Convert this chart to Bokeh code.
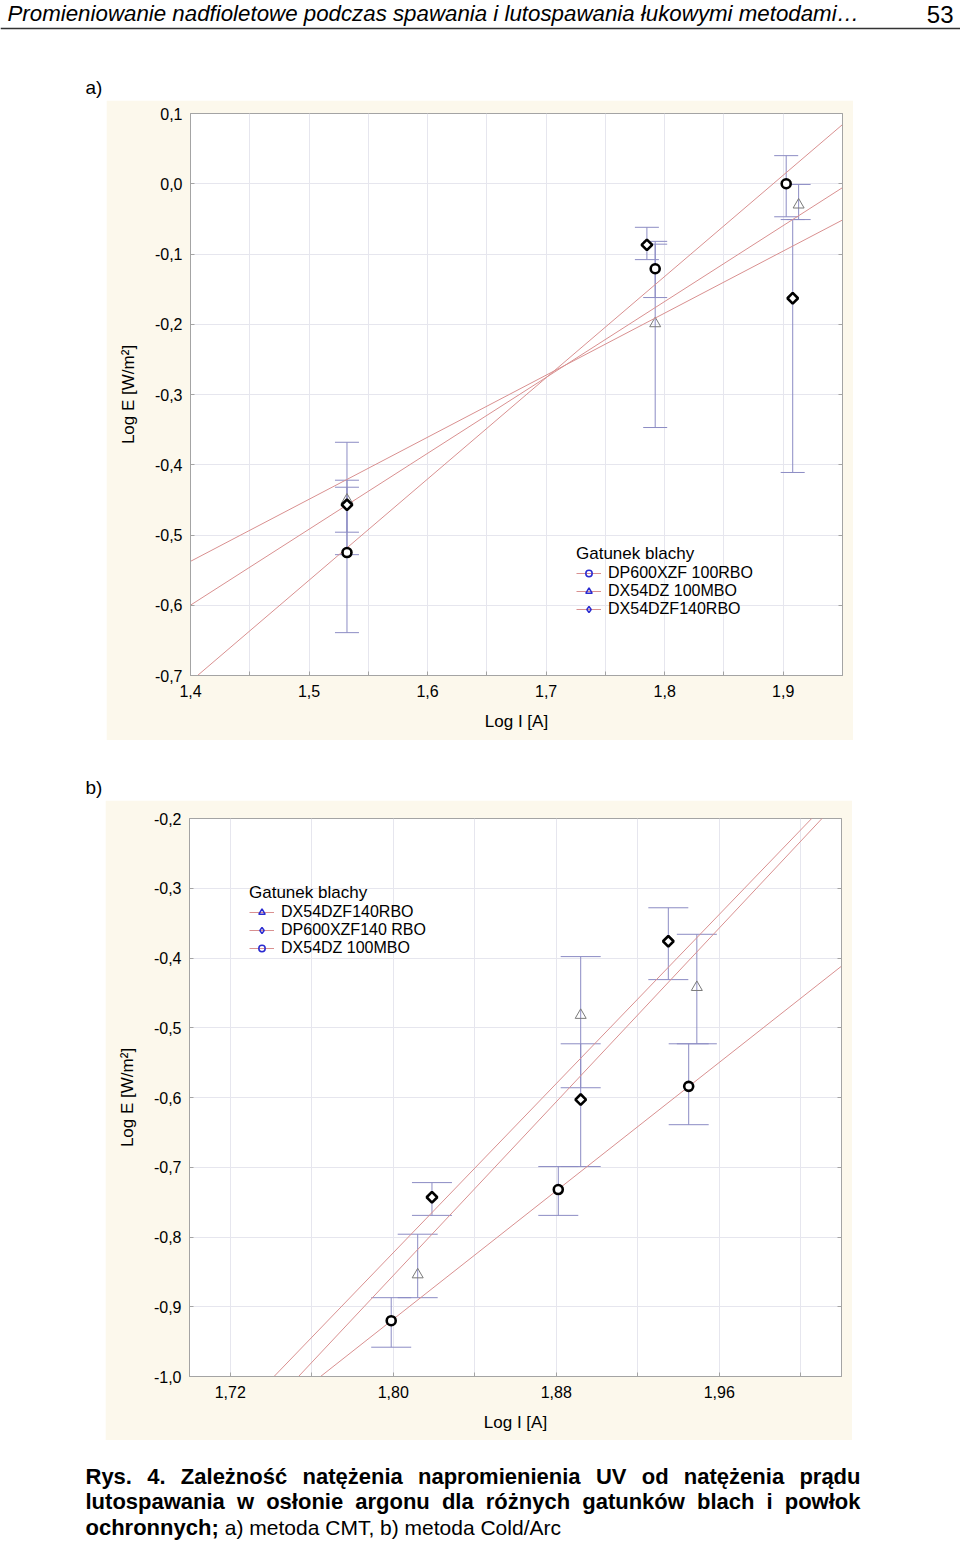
import numpy as np
from bokeh.plotting import figure
from bokeh.models import (ColumnDataSource, Whisker, TeeHead, Range1d, FixedTicker,
                          CustomJSTickFormatter, LinearAxis, Grid, Legend, LegendItem,
                          Label, Span, Spacer)
from bokeh.layouts import column, row
from bokeh.embed import file_html
from bokeh.resources import INLINE

# ---------------- data: chart a (CMT) ----------------
A_NAMES = ["DP600XZF 100RBO", "DX54DZ 100MBO", "DX54DZF140RBO"]
A_KINDS = ["circle", "triangle", "diamond"]
a_circle_x = [1.532, 1.792, 1.9025]
a_circle_y = [-0.525, -0.121, 0.000]
a_circle_lo = [-0.639, -0.162, -0.047]
a_circle_hi = [-0.422, -0.082, 0.040]
a_tri_x = [1.532, 1.792, 1.913]
a_tri_y = [-0.450, -0.199, -0.030]
a_tri_lo = [-0.528, -0.347, -0.051]
a_tri_hi = [-0.368, -0.086, -0.001]
a_dia_x = [1.532, 1.785, 1.908]
a_dia_y = [-0.457, -0.087, -0.163]
a_dia_lo = [-0.496, -0.108, -0.411]
a_dia_hi = [-0.432, -0.062, -0.051]

a_xticks = [1.4, 1.5, 1.6, 1.7, 1.8, 1.9]
a_xlabels = ["1,4", "1,5", "1,6", "1,7", "1,8", "1,9"]
a_xminor = [1.45, 1.55, 1.65, 1.75, 1.85, 1.95]
a_yticks = [0.1, 0.0, -0.1, -0.2, -0.3, -0.4, -0.5, -0.6, -0.7]
a_ylabels = ["0,1", "0,0", "-0,1", "-0,2", "-0,3", "-0,4", "-0,5", "-0,6", "-0,7"]

# ---------------- data: chart b (Cold/Arc) ----------------
B_NAMES = ["DX54DZF140RBO", "DP600XZF140 RBO", "DX54DZ 100MBO"]
B_KINDS = ["triangle", "diamond", "circle"]
b_tri_x = [1.812, 1.892, 1.949]
b_tri_y = [-0.854, -0.482, -0.442]
b_tri_lo = [-0.887, -0.586, -0.523]
b_tri_hi = [-0.796, -0.398, -0.366]
b_dia_x = [1.819, 1.892, 1.935]
b_dia_y = [-0.743, -0.603, -0.376]
b_dia_lo = [-0.769, -0.699, -0.431]
b_dia_hi = [-0.722, -0.523, -0.328]
b_cir_x = [1.799, 1.881, 1.945]
b_cir_y = [-0.920, -0.732, -0.584]
b_cir_lo = [-0.958, -0.769, -0.639]
b_cir_hi = [-0.887, -0.699, -0.523]

b_xticks = [1.72, 1.80, 1.88, 1.96]
b_xlabels = ["1,72", "1,80", "1,88", "1,96"]
b_xminor = [1.76, 1.84, 1.92, 2.00]
b_yticks = [-0.2, -0.3, -0.4, -0.5, -0.6, -0.7, -0.8, -0.9, -1.0]
b_ylabels = ["-0,2", "-0,3", "-0,4", "-0,5", "-0,6", "-0,7", "-0,8", "-0,9", "-1,0"]

HEADER = "Promieniowanie nadfioletowe podczas spawania i lutospawania łukowymi metodami…"
PAGE_NO = "53"
CAP_L1 = "Rys. 4. Zależność natężenia napromienienia UV od natężenia prądu"
CAP_L2 = "lutospawania w osłonie argonu dla różnych gatunków blach i powłok"
CAP_L3_BOLD = "ochronnych;"
CAP_L3_REG = "a) metoda CMT, b) metoda Cold/Arc"

# ---------------- style ----------------
FONT = "Liberation Sans"
CREAM = "#fcf8ec"
FRAME = "#a4a4a4"
GRID = "#e6e6ee"
ERR = "#8c8cc4"
FIT = "#d99090"
LEG_BLUE = "#2a2ad0"

MARK = {
    "circle": dict(marker="circle", size=9, angle=0.0, line_color="black", line_width=2.6, fill_color="white"),
    "diamond": dict(marker="square", size=7.5, angle=np.pi / 4, line_color="black", line_width=2.6, fill_color="white"),
    "triangle": dict(marker="triangle", size=11, angle=0.0, line_color="#7a7a7a", line_width=1, fill_color=None),
}
LEG_MARK = {"circle": "circle", "diamond": "diamond", "triangle": "triangle"}


def label_formatter(vals, labels):
    return CustomJSTickFormatter(args=dict(vals=vals, labels=labels), code="""
        let best = 0;
        for (let i = 1; i < vals.length; i++) {
            if (Math.abs(vals[i] - tick) < Math.abs(vals[best] - tick)) best = i;
        }
        return labels[best];
    """)


def style_axis(ax, minor=True):
    ax.axis_line_color = FRAME
    ax.major_tick_line_color = FRAME
    ax.minor_tick_line_color = FRAME if minor else None
    ax.major_tick_in = 4
    ax.major_tick_out = 0
    ax.minor_tick_in = 4 if minor else 0
    ax.minor_tick_out = 0
    ax.major_label_text_font = FONT
    ax.major_label_text_font_size = "16px"
    ax.major_label_text_color = "black"
    ax.axis_label_text_font = FONT
    ax.axis_label_text_font_size = "17px"
    ax.axis_label_text_font_style = "normal"
    ax.axis_label_text_color = "black"


def make_panel(xr, yr, xt, xl, xm, yt, yl, series, cap, legend_xy, top, bottom):
    p = figure(width=747, height=640, x_range=Range1d(*xr), y_range=Range1d(*yr),
               x_axis_type=None, y_axis_type=None, output_backend="svg",
               toolbar_location=None, min_border_left=84, min_border_right=11,
               min_border_top=top, min_border_bottom=bottom,
               background_fill_color="white", border_fill_color=CREAM,
               outline_line_color=FRAME, outline_line_width=1)
    xticker = FixedTicker(ticks=xt, minor_ticks=xm)
    yticker = FixedTicker(ticks=yt, minor_ticks=[])

    xax = LinearAxis(ticker=xticker, formatter=label_formatter(xt, xl), axis_label="Log I [A]")
    style_axis(xax, True)
    xax.major_label_standoff = 9
    xax.axis_label_standoff = 12
    p.add_layout(xax, "below")

    yax = LinearAxis(ticker=yticker, formatter=label_formatter(yt, yl), axis_label="Log E [W/m²]")
    style_axis(yax, False)
    yax.major_label_standoff = 8
    yax.axis_label_standoff = 14
    p.add_layout(yax, "left")

    rax = LinearAxis(ticker=yticker, formatter=CustomJSTickFormatter(code="return '';"))
    style_axis(rax, False)
    rax.major_label_standoff = 0
    rax.major_label_text_font_size = "0px"
    p.add_layout(rax, "right")

    p.add_layout(Grid(dimension=0, ticker=xticker, grid_line_color=GRID,
                      minor_grid_line_color=GRID), "center")
    p.add_layout(Grid(dimension=1, ticker=yticker, grid_line_color=GRID), "center")

    items = []
    for name, kind, xs, ys, lo, hi in series:
        src = ColumnDataSource(dict(x=xs, y=ys, lo=lo, hi=hi))
        w = Whisker(source=src, base="x", lower="lo", upper="hi", dimension="height",
                    line_color=ERR, line_width=1, level="underlay",
                    upper_head=TeeHead(size=cap, line_color=ERR, line_width=1),
                    lower_head=TeeHead(size=cap, line_color=ERR, line_width=1))
        p.add_layout(w)
        coef = np.polyfit(xs, ys, 1)
        xx = np.array(xr, dtype=float)
        ln = p.line(xx, np.polyval(coef, xx), line_color=FIT, line_width=1)
        m = MARK[kind]
        p.scatter("x", "y", source=src, marker=m["marker"], size=m["size"], angle=m["angle"],
                  line_color=m["line_color"], line_width=m["line_width"], fill_color=m["fill_color"])
        # legend-only marker (blue, as in the reference legend); NaN position is never drawn
        dummy_src = ColumnDataSource(dict(x=np.array([np.nan]), y=np.array([np.nan])))
        dummy = p.scatter("x", "y", source=dummy_src, marker=LEG_MARK[kind],
                          size=9, line_color=LEG_BLUE, line_width=1.5, fill_color=None)
        items.append(LegendItem(label=name, renderers=[ln, dummy]))

    leg = Legend(items=items, location=legend_xy, title="Gatunek blachy",
                 title_text_font=FONT, title_text_font_size="17px", title_text_font_style="normal",
                 title_text_color="black", title_standoff=0,
                 label_text_font=FONT, label_text_font_size="16px", label_text_color="black",
                 glyph_width=25, glyph_height=16, label_height=16, label_standoff=7,
                 spacing=0, padding=0, margin=0,
                 background_fill_alpha=0, border_line_alpha=0)
    p.add_layout(leg)
    return p


series_a = [
    (A_NAMES[0], A_KINDS[0], a_circle_x, a_circle_y, a_circle_lo, a_circle_hi),
    (A_NAMES[1], A_KINDS[1], a_tri_x, a_tri_y, a_tri_lo, a_tri_hi),
    (A_NAMES[2], A_KINDS[2], a_dia_x, a_dia_y, a_dia_lo, a_dia_hi),
]
series_b = [
    (B_NAMES[0], B_KINDS[0], b_tri_x, b_tri_y, b_tri_lo, b_tri_hi),
    (B_NAMES[1], B_KINDS[1], b_dia_x, b_dia_y, b_dia_lo, b_dia_hi),
    (B_NAMES[2], B_KINDS[2], b_cir_x, b_cir_y, b_cir_lo, b_cir_hi),
]

pa = make_panel((1.4, 1.95), (-0.7, 0.1), a_xticks, a_xlabels, a_xminor,
                a_yticks, a_ylabels, series_a, 24, (386, 57), 13, 65)
pb = make_panel((1.70, 2.02), (-1.0, -0.2), b_xticks, b_xlabels, b_xminor,
                b_yticks, b_ylabels, series_b, 40, (60, 419), 18, 64)


def text_fig(height, y0, y1):
    f = figure(width=960, height=height, x_range=Range1d(0, 960), y_range=Range1d(y1, y0),
               x_axis_type=None, y_axis_type=None, output_backend="svg",
               toolbar_location=None, min_border=0, outline_line_color=None,
               background_fill_color="white", border_fill_color="white")
    return f


# header
hdr = text_fig(100, 0, 100)
hdr.add_layout(Label(x=7, y=13, text=HEADER, text_font=FONT, text_font_style="italic",
                     text_font_size="22.3px", text_baseline="middle", text_color="black"))
hdr.add_layout(Label(x=953, y=14, text=PAGE_NO, text_font=FONT, text_font_size="24px",
                     text_align="right", text_baseline="middle", text_color="black"))
hdr.add_layout(Span(location=28, dimension="width", line_color="#333333", line_width=1.5))
hdr.add_layout(Label(x=85, y=87, text="a)", text_font=FONT, text_font_size="19px",
                     text_baseline="middle", text_color="black"))

mid = text_fig(60, 740, 800)
mid.add_layout(Label(x=85, y=787, text="b)", text_font=FONT, text_font_size="19px",
                     text_baseline="middle", text_color="black"))

# caption with justified lines (Arial-compatible advance widths, 1/1000 em)
BOLD_W = dict(zip("abcdefghijklmnopqrstuvwxyz", [556, 611, 556, 611, 556, 333, 611, 611, 278, 278, 556, 278, 889, 611, 611, 611, 611, 389, 556, 333, 611, 556, 778, 556, 556, 500]))
BOLD_W.update({"ż": 500, "ś": 556, "ć": 556, "ę": 556, "ą": 556, "ó": 611, "ł": 278,
               "R": 722, "Z": 611, "U": 722, "V": 667, "4": 556, ".": 278, ";": 333, " ": 278})


def tw(s, table, size):
    return sum(table.get(ch, 556) for ch in s) * size / 1000.0


cap = text_fig(103, 1440, 1543)
CAP_SIZE = 22
X0, X1 = 85, 860


def justified(fig, line, y):
    words = line.split(" ")
    widths = [tw(w, BOLD_W, CAP_SIZE) for w in words]
    gap = (X1 - X0 - sum(widths)) / (len(words) - 1)
    x = X0
    for w, wd in zip(words, widths):
        fig.add_layout(Label(x=x, y=y, text=w, text_font=FONT, text_font_style="bold",
                             text_font_size=f"{CAP_SIZE}px", text_baseline="middle",
                             text_color="black"))
        x += wd + gap


justified(cap, CAP_L1, 1476)
justified(cap, CAP_L2, 1501)
cap.add_layout(Label(x=X0, y=1527, text=CAP_L3_BOLD, text_font=FONT, text_font_style="bold",
                     text_font_size=f"{CAP_SIZE}px", text_baseline="middle", text_color="black"))
xr = X0 + tw(CAP_L3_BOLD + " ", BOLD_W, CAP_SIZE)
cap.add_layout(Label(x=xr, y=1527, text=CAP_L3_REG, text_font=FONT,
                     text_font_size="21px", text_baseline="middle", text_color="black"))

layout = column(
    hdr,
    row(Spacer(width=106, height=640), pa),
    mid,
    row(Spacer(width=105, height=640), pb),
    cap,
)

open("out.html", "w").write(file_html(layout, INLINE))
